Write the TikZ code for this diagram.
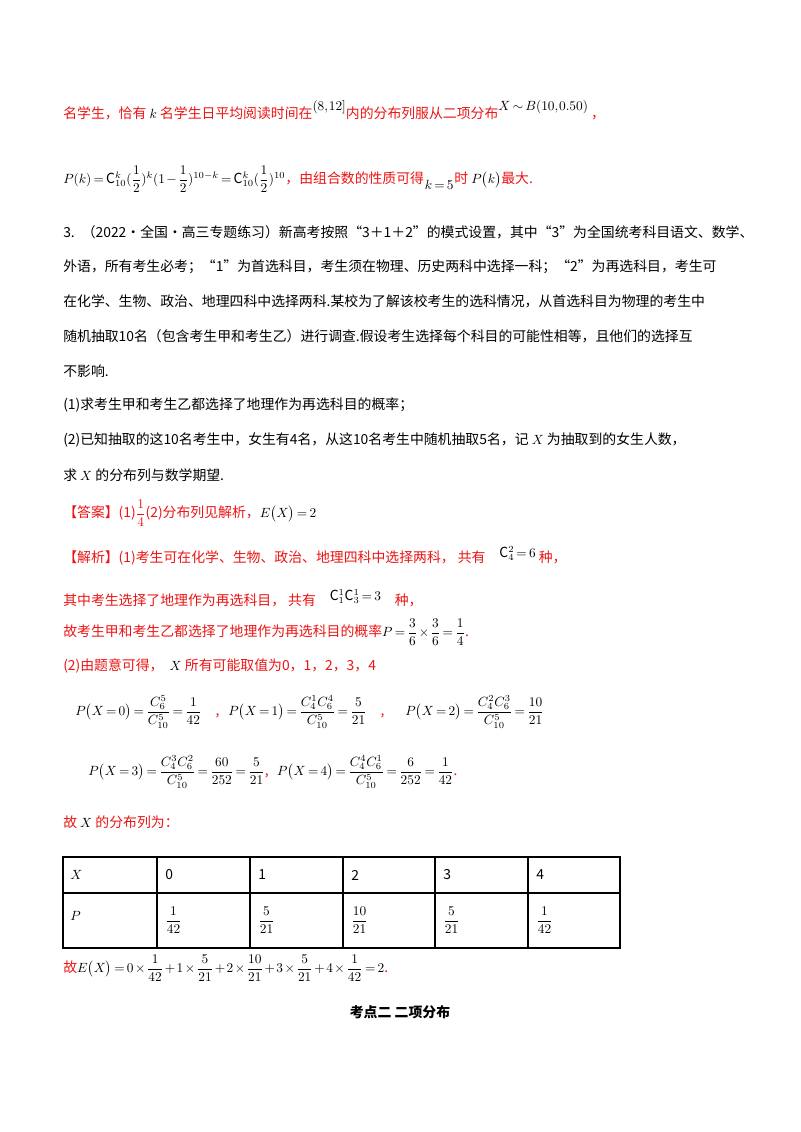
\documentclass[tikz,border=0pt]{standalone}
\usepackage{amsmath}
\usepackage{fontspec}
\setmainfont{Noto Sans CJK SC}
\definecolor{ansred}{RGB}{235,20,20}
\usetikzlibrary{positioning}
\begin{document}
\medmuskip=2mu \thickmuskip=3mu \thinmuskip=1mu
\begin{tikzpicture}[x=0.75pt,y=-0.75pt,
  txt/.style={anchor=west,inner sep=0pt,font=\fontsize{10.4}{12}\selectfont},
  red/.style={txt,text=ansred}]
\useasboundingbox (0,0) rectangle (800,1132);
\node[red] (l1) at (63,110) {名学生，恰有 $\textcolor{black}{k}$ 名学生日平均阅读时间在$\textcolor{black}{\raisebox{6pt}{$(8,12]$}}$内的分布列服从二项分布$\textcolor{black}{\raisebox{6pt}{$X\sim B(10,0.50)$}}$\ ，};
\node[red] (l2) at (63,179) {\textcolor{black}{$P(k)=\mathrm{C}_{10}^{k}(\dfrac12)^k(1-\dfrac12)^{10-k}=\mathrm{C}_{10}^{k}(\dfrac12)^{10}$}，由组合数的性质可得\textcolor{black}{\raisebox{-5pt}{$\,k=5\,$}}时 \textcolor{black}{$P\big(k\big)$}最大.};
\node[txt] (q1) at (63,232) {3.\enspace（2022·全国·高三专题练习）新高考按照“3＋1＋2”的模式设置，其中“3”为全国统考科目语文、数学、};
\node[txt] (q2) at (63,267) {外语，所有考生必考；“1”为首选科目，考生须在物理、历史两科中选择一科；“2”为再选科目，考生可};
\node[txt] (q3) at (63,301) {在化学、生物、政治、地理四科中选择两科.某校为了解该校考生的选科情况，从首选科目为物理的考生中};
\node[txt] (q4) at (63,336) {随机抽取10名（包含考生甲和考生乙）进行调查.假设考生选择每个科目的可能性相等，且他们的选择互};
\node[txt] (q5) at (63,371) {不影响.};
\node[txt] (q6) at (63,405) {(1)求考生甲和考生乙都选择了地理作为再选科目的概率；};
\node[txt] (q7) at (63,440) {(2)已知抽取的这10名考生中，女生有4名，从这10名考生中随机抽取5名，记 $X$ 为抽取到的女生人数，};
\node[txt] (q8) at (63,475) {求 $X$ 的分布列与数学期望.};
\node[red] (a1) at (63,513) {【答案】(1)$\dfrac14$(2)分布列见解析，\textcolor{black}{$E\big(X\big)=2$}};
\node[red] (a2) at (63,556) {【解析】(1)考生可在化学、生物、政治、地理四科中选择两科，\ 共有\quad\textcolor{black}{\raisebox{4pt}{$\mathrm{C}_4^2=6$}}\ 种，};
\node[red] (a3) at (63,598) {其中考生选择了地理作为再选科目，\ 共有\quad\textcolor{black}{\raisebox{4pt}{$\mathrm{C}_1^1\mathrm{C}_3^1=3$}}\quad 种，};
\node[red] (a4) at (63,632) {故考生甲和考生乙都选择了地理作为再选科目的概率\textcolor{black}{$P=\dfrac36\times\dfrac36=\dfrac14$}.};
\node[red] (a5) at (63,666) {(2)由题意可得，\ \ \textcolor{black}{$X$} 所有可能取值为0，1，2，3，4};
\node[txt] (p0) at (75,712) {$P\big(X=0\big)=\dfrac{C_6^5}{C_{10}^5}=\dfrac{1}{42}$\quad\textcolor{ansred}{,}};
\node[txt] (p1) at (228,712) {$P\big(X=1\big)=\dfrac{C_4^1C_6^4}{C_{10}^5}=\dfrac{5}{21}$\quad\textcolor{ansred}{,}};
\node[txt] (p2) at (405,712) {$P\big(X=2\big)=\dfrac{C_4^2C_6^3}{C_{10}^5}=\dfrac{10}{21}$};
\node[txt] (p3) at (88,772) {$P\big(X=3\big)=\dfrac{C_4^3C_6^2}{C_{10}^5}=\dfrac{60}{252}=\dfrac{5}{21}$\textcolor{ansred}{,}};
\node[txt] (p4) [right=6pt of p3] {$P\big(X=4\big)=\dfrac{C_4^4C_6^1}{C_{10}^5}=\dfrac{6}{252}=\dfrac{1}{42}$\textcolor{ansred}{.}};
\node[red] (t0) at (63,822) {故 \textcolor{black}{$X$} 的分布列为：};
% table
\draw[line width=0.8pt] (63,857) rectangle (620,948);
\draw[line width=0.8pt] (63,893) -- (620,893);
\foreach \x in {157,250,343,435,528} \draw[line width=0.8pt] (\x,857) -- (\x,948);
\node[txt] (h0) at (70,875) {$X$};
\foreach \x/\v in {165/0,258/1,351/2,443/3,536/4} \node[txt] at (\x,875) {\v};
\node[txt] (r0) at (70,916) {$P$};
\foreach \x/\v in {165/\dfrac{1}{42},258/\dfrac{5}{21},351/\dfrac{10}{21},443/\dfrac{5}{21},536/\dfrac{1}{42}} \node[txt] at (\x,920) {$\v$};
\node[red] (e1) at (63,968) {故\textcolor{black}{$E\big(X\big)=0\times\dfrac{1}{42}+1\times\dfrac{5}{21}+2\times\dfrac{10}{21}+3\times\dfrac{5}{21}+4\times\dfrac{1}{42}=2$}.};
\node[txt,anchor=center,font=\fontsize{10.4}{12}\selectfont\bfseries] (k2) at (400,1012) {考点二\ 二项分布};
\end{tikzpicture}
\end{document}
